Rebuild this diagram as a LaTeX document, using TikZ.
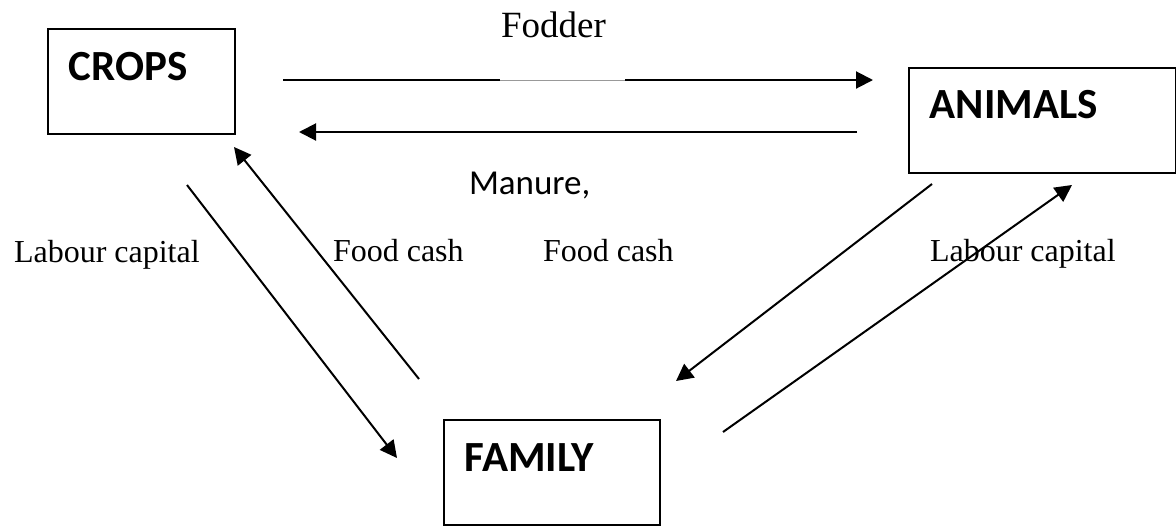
\documentclass[tikz,border=0pt]{standalone}
\usepackage{fontspec}
\setmainfont{Liberation Serif}
\newfontfamily\calibri{Carlito}
\usetikzlibrary{arrows.meta,positioning}

\begin{document}
\begin{tikzpicture}[
  x=0.5pt, y=-0.5pt,
  line width=1pt,
  >={Triangle[length=8.5pt,width=8.5pt]},
  unit/.style={draw, line width=0.8pt, anchor=north west,
    inner xsep=10.5pt, inner ysep=0pt, align=left,
    font=\calibri\bfseries\fontsize{21.5}{25}\selectfont},
  lbl/.style={anchor=base west, inner sep=0pt,
    font=\fontsize{16}{19}\selectfont},
]
\useasboundingbox (0,0) rectangle (1176,525);

% boxes
\node[unit, text width=72.5pt, text height=26pt, text depth=26.5pt] (crops) at (47,28) {CROPS};
\node[unit, text width=112.5pt, text height=25.5pt, text depth=27pt] (animals) at (908,67) {ANIMALS};
\node[unit, text width=87pt, text height=26pt, text depth=26.5pt] (family) at (443,419) {FAMILY};

% arrow ends
\coordinate (fodS) at (283,80);
\coordinate (fodE) at (873,80);
\coordinate (gapS) at (500,80);
\coordinate (gapE) at (625,80);
\coordinate (manS) at (857,132);
\coordinate (manE) at (299,132);
\coordinate (labLS) at (187,185);
\coordinate (labLE) at (397,458);
\coordinate (fooLS) at (419,379);
\coordinate (fooLE) at (234,147);
\coordinate (fooRS) at (932,184);
\coordinate (fooRE) at (676,381);
\coordinate (labRS) at (723,432);
\coordinate (labRE) at (1072,185);

\draw[->] (fodS) -- (fodE);
\draw[white, line width=1.6pt] (gapS) -- (gapE);
\draw[gray!80, line width=0.3pt] (gapS) -- (gapE);
\draw[->] (manS) -- (manE);
\draw[->] (labLS) -- (labLE);
\draw[->] (fooLS) -- (fooLE);
\draw[->] (fooRS) -- (fooRE);
\draw[->] (labRS) -- (labRE);

% labels
\node[lbl, font=\fontsize{18.5}{22}\selectfont] (fodder) at (500,37) {Fodder};
\node[lbl, font=\calibri\fontsize{17.5}{21}\selectfont] (manure) at (468,194) {Manure,};
\node[lbl] (labL) at (13,262) {Labour capital};
\node[lbl] (fooL) at (332,261) {Food cash};
\node[lbl] (fooR) at (542,261) {Food cash};
\node[lbl] (labR) at (929,261) {Labour capital};

\end{tikzpicture}
\end{document}
